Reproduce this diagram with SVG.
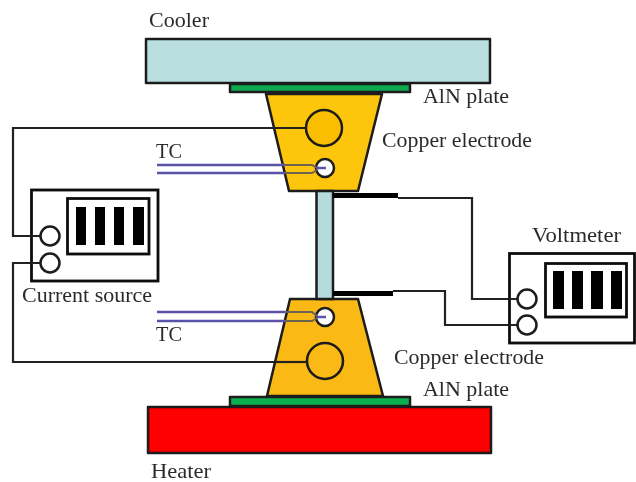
<svg xmlns="http://www.w3.org/2000/svg" width="636" height="482" viewBox="0 0 636 482">
<defs><filter id="soft" x="-5%" y="-5%" width="110%" height="110%"><feGaussianBlur stdDeviation="0.45"/></filter></defs>
<style>
svg>g{filter:url(#soft)}
text{font-family:"Liberation Serif","Times New Roman",serif;font-size:21px;fill:#2b2b2b}
.o{stroke:#1a1a1a;stroke-width:2.500;stroke-linejoin:round}
.w{fill:none;stroke:#222;stroke-width:2.200}
.t{fill:none;stroke:#5a52a8;stroke-width:2.500}
.g{fill:none;stroke:#6b6450;stroke-width:2}
.c{fill:none;stroke:#111;stroke-width:2.800}
.k{fill:#fff;stroke:#1a1a1a;stroke-width:2.500}
.b{fill:#000}
</style>
<g id="connectors">
<path class="w" d="M266 128H13V236H40"/>
<path class="w" d="M275 362H13V263H40"/>
<path class="w" d="M398 198H472V299H517"/>
<path class="w" d="M393 291H445V325H517"/>
</g>
<g id="cooler"><rect class="o" x="146" y="39" width="344" height="44" fill="#b9dfe1"/><text x="149" y="27" textLength="60" lengthAdjust="spacingAndGlyphs">Cooler</text></g>
<g id="heater"><rect class="o" x="148" y="407" width="343" height="46" fill="#fe0000"/><text x="151" y="478" textLength="60" lengthAdjust="spacingAndGlyphs">Heater</text></g>
<g id="aln-top"><rect class="o" x="230" y="84" width="180" height="8" fill="#07a850"/><text x="423" y="103" textLength="86" lengthAdjust="spacingAndGlyphs">AlN plate</text></g>
<g id="aln-bottom"><rect class="o" x="230" y="397" width="180" height="9" fill="#10b04f"/><text x="423" y="396" textLength="86" lengthAdjust="spacingAndGlyphs">AlN plate</text></g>
<g id="electrode-top">
<path class="o" d="M266 94H382L358 191H289Z" fill="#fdc60a"/>
<path class="w" d="M266 128H306"/>
<circle class="o" cx="324" cy="128" r="18" fill="#fbbd05"/>
<circle class="k" cx="325" cy="168" r="9"/>
<text x="382" y="147" textLength="150" lengthAdjust="spacingAndGlyphs">Copper electrode</text>
</g>
<g id="electrode-bottom">
<path class="o" d="M290 299H358L383 396H267Z" fill="#fbb919"/>
<path class="w" d="M275 362H307"/>
<circle class="o" cx="325" cy="361" r="18" fill="#fbb919"/>
<circle class="k" cx="325" cy="317" r="9"/>
<text x="394" y="364" textLength="150" lengthAdjust="spacingAndGlyphs">Copper electrode</text>
</g>
<g id="tc-top">
<path class="t" d="M157 165H285M157 173H285"/>
<path class="g" d="M285 165H312L317 168M285 173H312L317 170"/>
<path class="t" d="M316 168H326"/>
<text x="156" y="158" textLength="26" lengthAdjust="spacingAndGlyphs">TC</text>
</g>
<g id="tc-bottom">
<path class="t" d="M157 312H285M157 321H285"/>
<path class="g" d="M285 312H312L317 316M285 321H312L317 318"/>
<path class="t" d="M316 317H326"/>
<text x="156" y="341" textLength="26" lengthAdjust="spacingAndGlyphs">TC</text>
</g>
<g id="sample">
<rect class="o" x="316.500" y="191" width="16.500" height="108" fill="#b5dbdd"/>
<rect class="b" x="333" y="193" width="65" height="5"/>
<rect class="b" x="333" y="291" width="60" height="5"/>
</g>
<g id="current-source">
<rect class="c" x="31.500" y="190" width="126.500" height="91" fill="#fff"/>
<rect class="c" x="67.500" y="198.500" width="81.500" height="55.500"/>
<rect class="b" x="76" y="207" width="10" height="38"/><rect class="b" x="95" y="207" width="10" height="38"/><rect class="b" x="114" y="207" width="10" height="38"/><rect class="b" x="133" y="207" width="11" height="38"/>
<path class="w" d="M31 236H40M31 263H40"/>
<circle class="k" cx="50" cy="236" r="9.500"/>
<circle class="k" cx="50" cy="263" r="9.500"/>
<text x="22" y="302" textLength="130" lengthAdjust="spacingAndGlyphs">Current source</text>
</g>
<g id="voltmeter">
<rect class="c" x="509.500" y="253.500" width="125" height="89.500" fill="#fff"/>
<rect class="c" x="545.500" y="263.500" width="81" height="53.500"/>
<rect class="b" x="553" y="271" width="11" height="38"/><rect class="b" x="572" y="271" width="11" height="38"/><rect class="b" x="591" y="271" width="12" height="38"/><rect class="b" x="611" y="271" width="11" height="38"/>
<path class="w" d="M509 299H518M509 325H518"/>
<circle class="k" cx="527" cy="299" r="9.500"/>
<circle class="k" cx="527" cy="325" r="9.500"/>
<text x="532" y="242" textLength="89" lengthAdjust="spacingAndGlyphs">Voltmeter</text>
</g>
</svg>
